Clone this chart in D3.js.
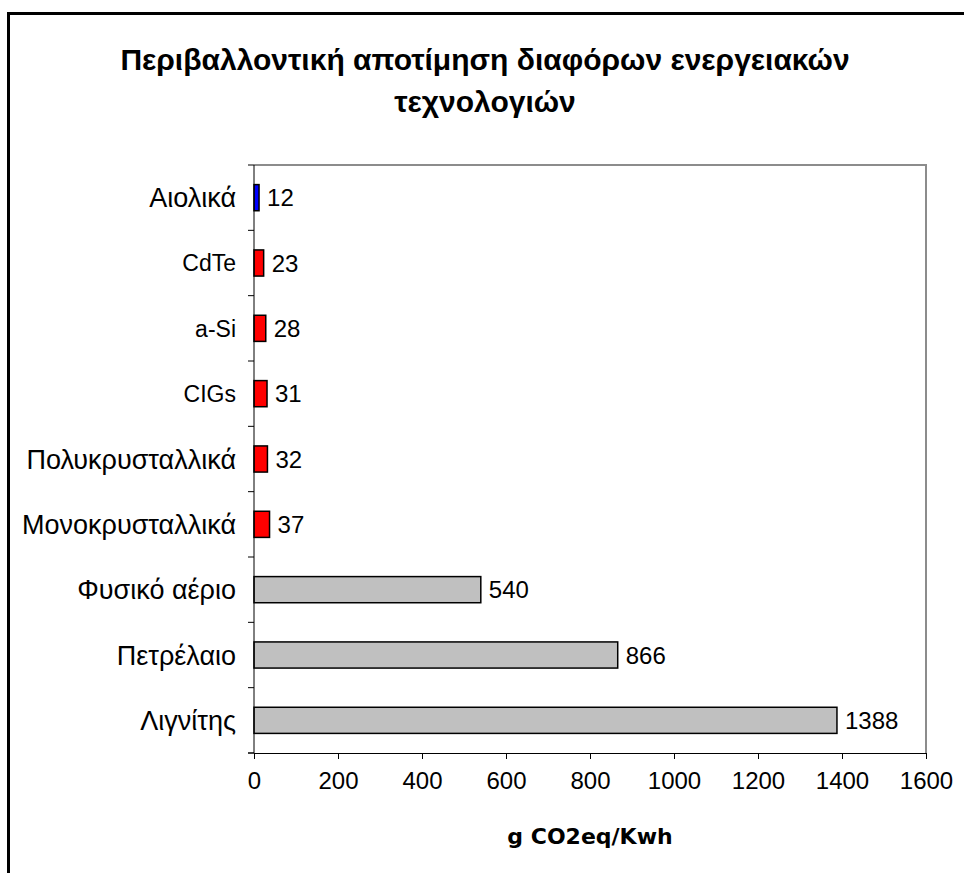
<!DOCTYPE html>
<html>
<head>
<meta charset="utf-8">
<script src="https://cdn.jsdelivr.net/npm/d3@7"></script>
<style>
  body { margin: 0; background: #fff; }
  svg { display: block; font-family: "Liberation Sans", Arial, sans-serif; }
</style>
</head>
<body>
<div id="chart"></div>
<script>
// data
const categories = ["Αιολικά", "CdTe", "a-Si", "CIGs", "Πολυκρυσταλλικά",
    "Μονοκρυσταλλικά", "Φυσικό αέριο", "Πετρέλαιο", "Λιγνίτης"];
const values = [12, 23, 28, 31, 32, 37, 540, 866, 1388];
const groups = ["wind", "pv", "pv", "pv", "pv", "pv", "fossil", "fossil", "fossil"];
const xTicks = [0, 200, 400, 600, 800, 1000, 1200, 1400, 1600];
const titleLines = ["Περιβαλλοντική αποτίμηση διαφόρων ενεργειακών", "τεχνολογιών"];
const xTitle = "g CO2eq/Kwh";

const width = 964, height = 873;
const plot = { left: 254, right: 926, top: 165, bottom: 753 };
const isGreek = s => /[\u0370-\u03FF]/.test(s);

const svg = d3.select("#chart").append("svg")
    .attr("width", width)
    .attr("height", height);

// frame of the chart object (only top and left edges visible)
svg.append("path")
    .attr("d", "M8.5,873 L8.5,13.5 L964,13.5")
    .attr("fill", "none")
    .attr("stroke", "#000")
    .attr("stroke-width", 3);

const x = d3.scaleLinear().domain([0, 1600]).range([plot.left, plot.right]);
const y = d3.scaleBand().domain(categories).range([plot.top, plot.bottom]).paddingInner(0.6).paddingOuter(0.3);
const color = d3.scaleOrdinal().domain(["wind", "pv", "fossil"]).range(["#0000ff", "#ff0000", "#c0c0c0"]);

// gray plot border (top and right)
svg.append("path")
    .attr("d", `M${plot.left},${plot.top} L${plot.right},${plot.top} L${plot.right},${plot.bottom}`)
    .attr("fill", "none")
    .attr("stroke", "#8c8c8c")
    .attr("stroke-width", 2);

// bars
svg.append("g").selectAll("rect")
    .data(values)
    .enter()
    .append("rect")
    .attr("x", x(0))
    .attr("y", (d, i) => y(categories[i]))
    .attr("width", d => x(d) - x(0))
    .attr("height", y.bandwidth())
    .attr("fill", (d, i) => color(groups[i]))
    .attr("stroke", "#000")
    .attr("stroke-width", 1.5);

// value labels
svg.append("g").selectAll("text")
    .data(values)
    .enter()
    .append("text")
    .attr("x", d => x(d) + 8)
    .attr("y", (d, i) => y(categories[i]) + y.bandwidth() / 2)
    .attr("dy", "0.36em")
    .attr("font-size", 24)
    .text(d => d);

// y axis: line, ticks at band boundaries, labels
const step = (plot.bottom - plot.top) / categories.length;
const yAxis = svg.append("g");
yAxis.append("line")
    .attr("x1", plot.left).attr("x2", plot.left)
    .attr("y1", plot.top).attr("y2", plot.bottom)
    .attr("stroke", "#000");
yAxis.selectAll(".tick")
    .data(d3.range(categories.length + 1))
    .enter()
    .append("line")
    .attr("x1", plot.left - 6).attr("x2", plot.left)
    .attr("y1", i => plot.top + i * step).attr("y2", i => plot.top + i * step)
    .attr("stroke", "#000");
// greek labels come out wider in the original, latin ones narrower
yAxis.selectAll("text")
    .data(categories)
    .enter()
    .append("text")
    .attr("x", plot.left - 18)
    .attr("y", d => y(d) + y.bandwidth() / 2)
    .attr("dy", "0.36em")
    .attr("text-anchor", "end")
    .attr("font-size", d => isGreek(d) ? 27 : 23)
    .text(d => d);

// x axis
const xAxis = svg.append("g")
    .attr("transform", `translate(0,${plot.bottom})`)
    .call(d3.axisBottom(x).tickValues(xTicks).tickFormat(d3.format("d"))
        .tickSize(6).tickSizeOuter(0).tickPadding(13));
xAxis.select(".domain").attr("stroke", "#000");
xAxis.selectAll("text")
    .attr("font-size", 24)
    .attr("font-family", "Liberation Sans, Arial, sans-serif")
    .attr("fill", "#000");
xAxis.append("line")
    .attr("x1", plot.left - 6).attr("x2", plot.left)
    .attr("stroke", "#000");

// titles
svg.append("g").selectAll("text")
    .data(titleLines)
    .enter()
    .append("text")
    .attr("x", 485)
    .attr("y", (d, i) => 70 + i * 42)
    .attr("text-anchor", "middle")
    .attr("font-size", 30)
    .attr("font-weight", "bold")
    .text(d => d);

svg.append("text")
    .attr("x", (plot.left + plot.right) / 2)
    .attr("y", 844)
    .attr("text-anchor", "middle")
    .attr("font-family", "DejaVu Sans")
    .attr("font-size", 22)
    .attr("font-weight", "bold")
    .text(xTitle);
</script>
</body>
</html>
